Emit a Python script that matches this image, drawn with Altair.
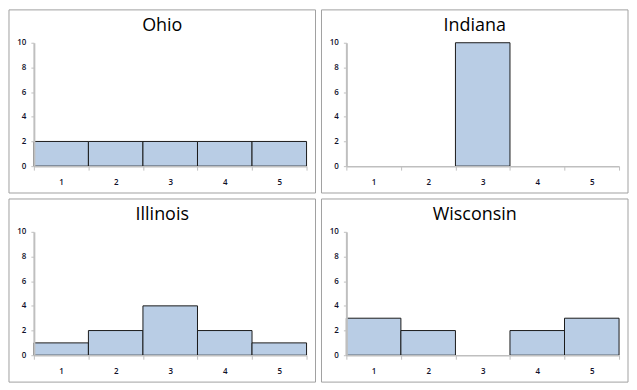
import altair as alt
import pandas as pd

states = ["Ohio", "Indiana", "Illinois", "Wisconsin"]
categories = ["1", "2", "3", "4", "5"]
ohio = [2, 2, 2, 2, 2]
indiana = [0, 0, 10, 0, 0]
illinois = [1, 2, 4, 2, 1]
wisconsin = [3, 2, 0, 2, 3]
y_ticks = [0, 2, 4, 6, 8, 10]

series = {"Ohio": ohio, "Indiana": indiana, "Illinois": illinois, "Wisconsin": wisconsin}
rows = []
for s in states:
    for c, v in zip(categories, series[s]):
        rows.append({"state": s, "bin": c, "count": v})
df = pd.DataFrame(rows)

W, H = 274, 124
L, T, R, B = 25, 33, 9, 27
LABEL_COLOR = "#10102a"
AXIS_COLOR = "#bfbfbf"


def panel(state):
    frame = alt.Chart(alt.Data(values=[{}])).mark_rect(
        fill="white", stroke="#a0a0a0", strokeWidth=1
    ).encode(
        x=alt.value(-L), x2=alt.value(W + R),
        y=alt.value(-T), y2=alt.value(H + B),
    )
    bars = alt.Chart(df).transform_filter(
        (alt.datum.state == state) & (alt.datum["count"] > 0)
    ).mark_bar(fill="#b9cde5", stroke="#1a1a1a", strokeWidth=1).encode(
        x=alt.X("bin:O", scale=alt.Scale(domain=categories, paddingInner=0, paddingOuter=0),
                axis=alt.Axis(title=None, labelAngle=0, tickBand="extent", tickSize=4,
                              labelPadding=8, domainColor=AXIS_COLOR, tickColor=AXIS_COLOR,
                              domainWidth=1.5, labelFontSize=8, labelColor=LABEL_COLOR,
                              labelFont="Open Sans", labelFontWeight=600, zindex=1)),
        y=alt.Y("count:Q", scale=alt.Scale(domain=[0, 10]),
                axis=alt.Axis(title=None, values=y_ticks, grid=False, tickSize=3,
                              labelPadding=5, domainColor=AXIS_COLOR, tickColor=AXIS_COLOR,
                              domainWidth=2, labelFontSize=8, labelColor=LABEL_COLOR,
                              labelFont="Open Sans", labelFontWeight=600, zindex=1)),
    )
    title = alt.Chart(alt.Data(values=[{}])).mark_text(
        font="Open Sans", fontSize=18, color="black", baseline="alphabetic", align="center"
    ).encode(
        x=alt.value((W + R - L) / 2), y=alt.value(-12), text=alt.value(state)
    )
    return alt.layer(frame, bars, title).properties(width=W, height=H)


top = alt.hconcat(panel("Ohio"), panel("Indiana"), spacing=4)
bottom = alt.hconcat(panel("Illinois"), panel("Wisconsin"), spacing=4)
chart = alt.vconcat(top, bottom, spacing=4).properties(padding=0).configure_view(stroke=None)

chart.save("out.html", embed_options={"renderer": "svg", "actions": False})
